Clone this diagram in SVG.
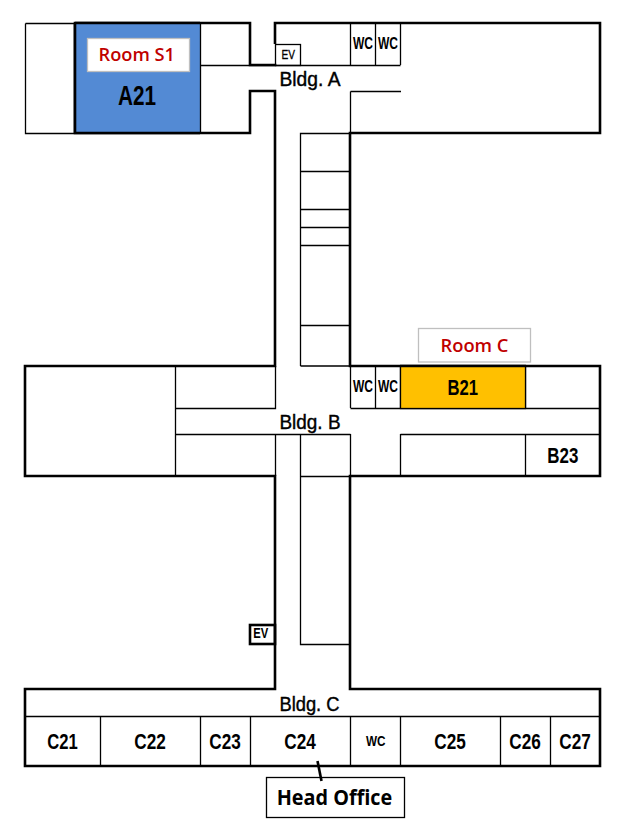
<svg xmlns="http://www.w3.org/2000/svg" width="626" height="821" viewBox="0 0 626 821">
<style>
.thin{fill:none;stroke:#000;stroke-width:1.3}
.thick{fill:none;stroke:#000;stroke-width:2.6;stroke-linejoin:miter}
text{font-family:"Liberation Sans",Arial,sans-serif;fill:#000}
.lab{font-size:22px;font-weight:bold}
.bld{font-size:20px;stroke:#000;stroke-width:.4}
.wc{font-size:16px;font-weight:bold}
.red{font-family:"Open Sans","Noto Sans",sans-serif;font-size:17.500px;font-weight:600;fill:#C00000}
.grey{fill:#fff;stroke:#BFBFBF;stroke-width:1.3}
</style>
<rect width="626" height="821" fill="#fff"/>
<g id="connectors">
<path class="thin" d="M25.500 23.500H75M25.500 23.500V133.500H75"/>
<path class="thin" d="M200.500 65.500H400.500M350.500 23V65M375.500 23V65M400.500 23V65M350.500 91.500H401M350.500 91.500V133"/>
<path class="thin" d="M300.500 366V133.500H350M300.500 171.500H350M300.500 209.500H350M300.500 227.500H350M300.500 245.500H350M300.500 325.500H350M300.500 366H350"/>
<path class="thin" d="M175.500 366V476M175.500 408.500H275.500V366M175.500 434.500H350.500M275.500 434V476M350.500 434V476M350.500 366V408M375.500 366V408M400.500 366V408M525.500 366V408M350.500 408.500H600M400.500 434.500H600M400.500 434V476M525.500 434V476M300.500 434V644.500H350M300.500 476.500H350"/>
<path class="thin" d="M25 716.500H600M100.500 716V766M200.500 716V766M250.500 716V766M350.500 716V766M400.500 716V766M500.500 716V766M550.500 716V766"/>
<path class="thick" d="M275 44V23H600V133H350V366H600V476H350V689H600V766H25V689H275V476H25V366H275V91H250V133H75V23H250V65H276.300"/>
<path d="M317.500 761L321.500 781" fill="none" stroke="#000" stroke-width="2.600"/>
</g>
<g id="A21"><rect x="75" y="23" width="125.500" height="110" fill="#538AD4"/><path class="thick" d="M75 23V133"/><path class="thin" d="M200.500 23V133"/><path class="thick" d="M75 23H200M75 133H200"/><text x="118" y="105" font-size="27" font-weight="bold" textLength="38" lengthAdjust="spacingAndGlyphs">A21</text></g>
<g id="room-s1"><rect class="grey" x="87.500" y="38.500" width="102" height="33"/><text class="red" x="98.500" y="61" textLength="76.500" lengthAdjust="spacingAndGlyphs">Room S1</text></g>
<g id="room-c"><rect class="grey" x="418.500" y="328.500" width="112" height="33.500"/><text class="red" x="440.500" y="351.500" textLength="68" lengthAdjust="spacingAndGlyphs">Room C</text></g>
<g id="EV-a"><rect class="thin" x="275.500" y="44.500" width="25" height="21" fill="#fff"/><text x="281.500" y="59.300" font-size="13" stroke="#000" stroke-width=".3" textLength="13.500" lengthAdjust="spacingAndGlyphs">EV</text></g>
<g id="EV-c"><rect class="thick" x="250" y="625" width="25" height="19"/><text x="253.300" y="638.300" font-size="15" font-weight="bold" textLength="15" lengthAdjust="spacingAndGlyphs">EV</text></g>
<g id="WC-a1"><text class="wc" x="353" y="49.300" textLength="20" lengthAdjust="spacingAndGlyphs">WC</text></g>
<g id="WC-a2"><text class="wc" x="378" y="49.300" textLength="20" lengthAdjust="spacingAndGlyphs">WC</text></g>
<g id="bldg-a"><text class="bld" x="279.500" y="86" textLength="61" lengthAdjust="spacingAndGlyphs">Bldg. A</text></g>
<g id="B21"><rect x="400.500" y="366" width="125" height="42.500" fill="#FFC000" stroke="#000" stroke-width="1.300"/><path class="thick" d="M400 366H526"/><text class="lab" x="447.500" y="395" textLength="30.500" lengthAdjust="spacingAndGlyphs">B21</text></g>
<g id="WC-b1"><text class="wc" x="353" y="392.300" textLength="20" lengthAdjust="spacingAndGlyphs">WC</text></g>
<g id="WC-b2"><text class="wc" x="378" y="392.300" textLength="20" lengthAdjust="spacingAndGlyphs">WC</text></g>
<g id="bldg-b"><text class="bld" x="279.500" y="429" textLength="61" lengthAdjust="spacingAndGlyphs">Bldg. B</text></g>
<g id="B23"><text class="lab" x="547.300" y="463" textLength="31" lengthAdjust="spacingAndGlyphs">B23</text></g>
<g id="bldg-c"><text class="bld" x="279.500" y="711" textLength="60" lengthAdjust="spacingAndGlyphs">Bldg. C</text></g>
<g id="C21"><text class="lab" x="47.300" y="749" textLength="30.500" lengthAdjust="spacingAndGlyphs">C21</text></g>
<g id="C22"><text class="lab" x="134.300" y="749" textLength="31.500" lengthAdjust="spacingAndGlyphs">C22</text></g>
<g id="C23"><text class="lab" x="209.300" y="749" textLength="31.500" lengthAdjust="spacingAndGlyphs">C23</text></g>
<g id="C24"><text class="lab" x="284.300" y="749" textLength="31.500" lengthAdjust="spacingAndGlyphs">C24</text></g>
<g id="WC-c"><text class="wc" x="366" y="746" textLength="19.500" lengthAdjust="spacingAndGlyphs" style="font-size:14px">WC</text></g>
<g id="C25"><text class="lab" x="434.300" y="749" textLength="31.500" lengthAdjust="spacingAndGlyphs">C25</text></g>
<g id="C26"><text class="lab" x="509.300" y="749" textLength="31.500" lengthAdjust="spacingAndGlyphs">C26</text></g>
<g id="C27"><text class="lab" x="559.300" y="749" textLength="31.500" lengthAdjust="spacingAndGlyphs">C27</text></g>
<g id="head-office"><rect class="thin" x="266.500" y="777.500" width="138" height="40" fill="#fff"/><text x="276.700" y="805" textLength="115.500" lengthAdjust="spacingAndGlyphs" font-size="21" font-weight="700" style="font-family:'Open Sans',sans-serif">Head Office</text></g>
</svg>
